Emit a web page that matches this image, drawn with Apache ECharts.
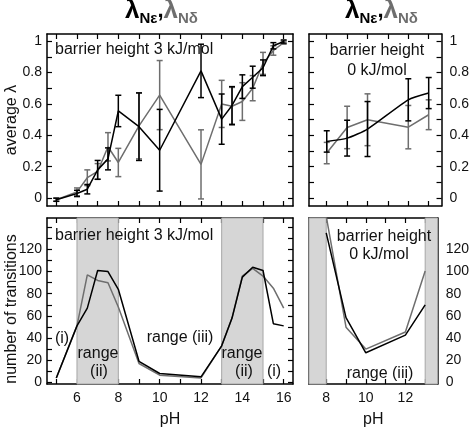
<!DOCTYPE html>
<html>
<head>
<meta charset="utf-8">
<script src="https://cdn.jsdelivr.net/npm/echarts@6/dist/echarts.min.js"></script>
<style>
html,body{margin:0;padding:0;background:#fff;}
#chart{width:472px;height:429px;}
</style>
</head>
<body>
<div id="chart"></div>
<script>
// ---------- data ----------
const phLeft = [5, 6, 6.5, 7, 7.5, 8, 9, 10, 12, 13, 13.5, 14, 14.5, 15, 15.5, 16];
const lamNeps3 = [-0.01, 0.03, 0.057, 0.18, 0.25, 0.555, 0.455, 0.305, 0.81, 0.503, 0.59, 0.71, 0.77, 0.83, 0.97, 0.997];
const lamNeps3Err = [0.01, 0.02, 0.03, 0.06, 0.07, 0.1, 0.215, 0.26, 0.17, 0.16, 0.12, 0.075, 0.07, 0.05, 0.02, 0.01];
const lamNdel3 = [-0.01, 0.04, 0.13, 0.17, 0.327, 0.227, 0.46, 0.656, 0.215, 0.60, 0.585, 0.615, 0.70, 0.858, 0.94, 0.99];
const lamNdel3Err = [0.01, 0.025, 0.05, 0.05, 0.09, 0.09, 0.21, 0.22, 0.22, 0.15, 0.12, 0.12, 0.08, 0.07, 0.03, 0.01];

const phRight = [8, 9, 10, 12, 13];
const lamNeps0 = [0.361, 0.382, 0.44, 0.626, 0.669];
const lamNeps0Err = [0.068, 0.114, 0.175, 0.134, 0.099];
const lamNdel0 = [0.287, 0.45, 0.499, 0.452, 0.531];
const lamNdel0Err = [0.068, 0.135, 0.165, 0.138, 0.095];

const transNeps3 = [4, 51, 67, 101, 100, 84, 19, 8, 5, 33, 58, 95, 104, 101, 53, 51];
const transNdel3 = [4, 51, 97, 92, 90, 68, 17, 6.5, 4, 33, 58, 96, 103, 96, 85, 67];
const transNeps0 = [135, 58.5, 26.7, 42.6, 70];
const transNdel0 = [150, 49.8, 30, 45.5, 100.6];

const bandsLeft = [[6, 8], [13, 15]];
const bandsRight = [[7.13, 8], [13, 13.63]];

const xTicksLeft = [5, 6, 7, 8, 9, 10, 11, 12, 13, 14, 15, 16];
const xLabelsLeft = [6, 8, 10, 12, 14, 16];
const xTicksRight = [8, 9, 10, 11, 12, 13];
const xLabelsRight = [8, 10, 12];
const lamTicks = [0, 0.1, 0.2, 0.3, 0.4, 0.5, 0.6, 0.7, 0.8, 0.9, 1];
const lamLabels = [0, 0.2, 0.4, 0.6, 0.8, 1];
const transTicks = [0, 10, 20, 30, 40, 50, 60, 70, 80, 90, 100, 110, 120, 130, 140];
const transLabels = [0, 20, 40, 60, 80, 100, 120];

// ---------- styling ----------
const FONT = 'Liberation Sans, Arial, sans-serif';
const BLACK = '#000';
const GRAY = '#6e6e6e';
const LW = 1.5;

const grids = [
  {left: 47, top: 34, width: 246, height: 172},
  {left: 309, top: 34, width: 135, height: 172},
  {left: 47, top: 218, width: 246, height: 172},
  {left: 309, top: 218, width: 135, height: 172}
];

function axisBase(gridIndex, min, max, position, ticks, labels, margin, name, nameGap) {
  return {
    type: 'value', gridIndex, min, max, position,
    axisLine: {show: true, onZero: false, lineStyle: {color: '#000', width: LW}},
    axisTick: {show: true, inside: true, length: 5, customValues: ticks, lineStyle: {color: '#000', width: 1.2}},
    axisLabel: labels ? {show: true, customValues: labels, margin: margin, fontSize: 14, fontFamily: FONT, color: '#111'} : {show: false},
    splitLine: {show: false},
    name: name || '', nameLocation: 'middle', nameGap: nameGap || 0,
    nameTextStyle: {fontSize: 16, fontFamily: FONT, color: '#111'}
  };
}

const xL = [4.55, 16.45], xR = [7.13, 13.63];
const yLam = [-0.05, 1.045], yTr = [-1.5, 148.4];

const xAxis = [
  axisBase(0, xL[0], xL[1], 'bottom', xTicksLeft, null),
  axisBase(0, xL[0], xL[1], 'top', xTicksLeft, null),
  axisBase(1, xR[0], xR[1], 'bottom', xTicksRight, null),
  axisBase(1, xR[0], xR[1], 'top', xTicksRight, null),
  axisBase(2, xL[0], xL[1], 'bottom', xTicksLeft, xLabelsLeft, 7, 'pH', 28),
  axisBase(2, xL[0], xL[1], 'top', xTicksLeft, null),
  axisBase(3, xR[0], xR[1], 'bottom', xTicksRight, xLabelsRight, 7, 'pH', 28),
  axisBase(3, xR[0], xR[1], 'top', xTicksRight, null)
];
const yAxis = [
  axisBase(0, yLam[0], yLam[1], 'left', lamTicks, lamLabels, 5),
  axisBase(0, yLam[0], yLam[1], 'right', lamTicks, null),
  axisBase(1, yLam[0], yLam[1], 'right', lamTicks, lamLabels, 8),
  axisBase(1, yLam[0], yLam[1], 'left', lamTicks, null),
  axisBase(2, yTr[0], yTr[1], 'left', transTicks, transLabels, 5),
  axisBase(2, yTr[0], yTr[1], 'right', transTicks, null),
  axisBase(3, yTr[0], yTr[1], 'right', transTicks, transLabels, 8),
  axisBase(3, yTr[0], yTr[1], 'left', transTicks, null)
];

function pairs(xs, ys) { return xs.map((x, i) => [x, ys[i]]); }

function lineSeries(ai, xs, ys, color, z, smooth, bands) {
  const s = {
    type: 'line', xAxisIndex: ai, yAxisIndex: ai, data: pairs(xs, ys),
    symbol: 'none', smooth: smooth || false, clip: true, z: z, animation: false,
    lineStyle: {color: color, width: LW}
  };
  if (bands) {
    s.markArea = {
      silent: true,
      itemStyle: {color: '#d6d6d6', borderColor: '#a6a6a6', borderWidth: 1},
      data: bands.map(b => [{xAxis: b[0]}, {xAxis: b[1]}])
    };
  }
  return s;
}

function errSeries(ai, xs, ys, es, color, z) {
  return {
    type: 'custom', xAxisIndex: ai, yAxisIndex: ai, z: z, animation: false, silent: true,
    data: xs.map((x, i) => [x, ys[i], es[i]]),
    encode: {x: 0, y: 1},
    renderItem: function (params, api) {
      const x = api.value(0), y = api.value(1), e = api.value(2);
      const t = api.coord([x, y + e]);
      const b = api.coord([x, y - e]);
      const w = 3;
      const st = {stroke: color, lineWidth: LW};
      return {type: 'group', children: [
        {type: 'line', shape: {x1: t[0], y1: t[1], x2: b[0], y2: b[1]}, style: st},
        {type: 'line', shape: {x1: t[0] - w, y1: t[1], x2: t[0] + w, y2: t[1]}, style: st},
        {type: 'line', shape: {x1: b[0] - w, y1: b[1], x2: b[0] + w, y2: b[1]}, style: st}
      ]};
    }
  };
}

const series = [
  errSeries(0, phLeft, lamNdel3, lamNdel3Err, GRAY, 2),
  lineSeries(0, phLeft, lamNdel3, GRAY, 3),
  errSeries(0, phLeft, lamNeps3, lamNeps3Err, BLACK, 4),
  lineSeries(0, phLeft, lamNeps3, BLACK, 5),

  errSeries(2, phRight, lamNdel0, lamNdel0Err, GRAY, 2),
  lineSeries(2, phRight, lamNdel0, GRAY, 3),
  errSeries(2, phRight, lamNeps0, lamNeps0Err, BLACK, 4),
  lineSeries(2, phRight, lamNeps0, BLACK, 5, 0.2),

  lineSeries(4, phLeft, transNdel3, GRAY, 3, false, bandsLeft),
  lineSeries(4, phLeft, transNeps3, BLACK, 5),

  lineSeries(6, phRight, transNdel0, GRAY, 3, false, bandsRight),
  lineSeries(6, phRight, transNeps0, BLACK, 5)
];

const titleRich = {
  l: {fontSize: 26, fontWeight: 'bold', color: BLACK, fontFamily: FONT, lineHeight: 30},
  s: {fontSize: 15, color: BLACK, fontFamily: FONT, lineHeight: 15, verticalAlign: 'bottom'},
  c: {fontSize: 22, color: BLACK, fontFamily: FONT, lineHeight: 30},
  g: {fontSize: 26, fontWeight: 'bold', color: GRAY, fontFamily: FONT, lineHeight: 30},
  gs: {fontSize: 15, color: GRAY, fontFamily: FONT, lineHeight: 15, verticalAlign: 'bottom'}
};
const titleText = '{l|λ}{s|Nε}{c|,}{g|λ}{gs|Nδ}';

function txt(x, y, s, opts) {
  return Object.assign({
    type: 'text', x: x, y: y, silent: true, z: 50,
    style: {text: s, fontSize: 16, fontFamily: FONT, fill: '#111', align: 'center', verticalAlign: 'middle'}
  }, opts || {});
}
function txtL(x, y, s) {
  const t = txt(x, y, s);
  t.style.align = 'left';
  return t;
}

const graphic = [
  txtL(55, 50, 'barrier height 3 kJ/mol'),
  txtL(55, 236, 'barrier height 3 kJ/mol'),
  txt(377, 51, 'barrier height'),
  txt(377, 71, '0 kJ/mol'),
  txt(384, 237, 'barrier height'),
  txt(379, 255, '0 kJ/mol'),
  txt(62, 339, '(i)'),
  txt(98, 354, 'range'),
  txt(99, 372, '(ii)'),
  txt(180, 338, 'range (iii)'),
  txt(242, 354, 'range'),
  txt(244, 372, '(ii)'),
  txt(274, 372, '(i)'),
  txt(380, 374, 'range (iii)'),
  txt(12, 120, 'average λ', {rotation: Math.PI / 2}),
  txt(12, 309, 'number of transitions', {rotation: Math.PI / 2})
];

const chart = echarts.init(document.getElementById('chart'), null, {renderer: 'canvas'});
chart.setOption({
  animation: false,
  backgroundColor: '#fff',
  title: [
    {text: titleText, left: 125, top: -4, padding: 0, textStyle: {rich: titleRich}},
    {text: titleText, left: 345, top: -4, padding: 0, textStyle: {rich: titleRich}}
  ],
  grid: grids,
  xAxis: xAxis,
  yAxis: yAxis,
  series: series,
  graphic: graphic
});
</script>
</body>
</html>
